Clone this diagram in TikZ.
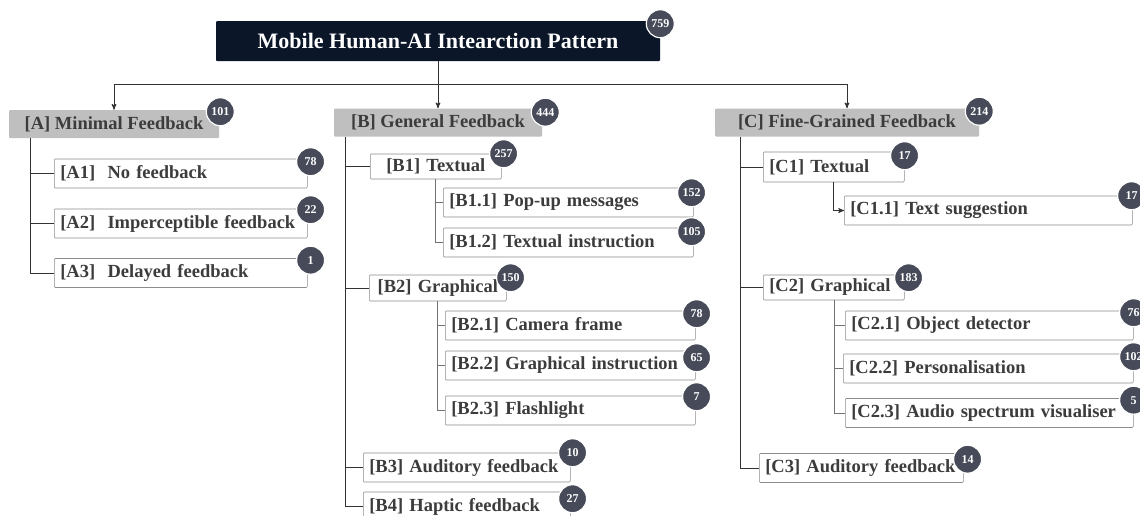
\documentclass[tikz,border=0pt]{standalone}
\usepackage{fontspec}
\setmainfont{Liberation Serif}
\usetikzlibrary{arrows,positioning}
\definecolor{navy}{HTML}{0B1628}
\definecolor{catgray}{HTML}{BFBFBF}
\definecolor{badgegray}{HTML}{474B59}
\definecolor{inkgray}{HTML}{3C3C3C}
\definecolor{rimgray}{HTML}{8C8C8C}
\newcommand{\boxfont}{\bfseries\fontsize{18.5}{20}\selectfont}

\begin{document}
\begin{tikzpicture}[x=1pt,y=-1pt,>=stealth',semithick,
	title/.style={fill=navy,text=white,rounded corners=1pt,minimum width=444,minimum height=40,font=\bfseries\fontsize{22}{24}\selectfont},
	cat/.style={fill=catgray,text=inkgray,rounded corners=1pt,minimum height=28,font=\boxfont},
	leaf/.style={draw=rimgray,fill=white,text=inkgray,rounded corners=1pt,anchor=west,align=left,inner xsep=6,minimum height=29,font=\boxfont},
	badge/.style={circle,fill=badgegray,draw=white,line width=1.2pt,minimum size=28,inner sep=0,text=white,font=\bfseries\fontsize{12}{12}\selectfont},
	spine/.style={draw=black!80,line width=1pt},
	twig/.style={draw=black!55,line width=0.8pt}]
	\fill[white] (0,0) rectangle (1140,515);
	\useasboundingbox (0,0) rectangle (1140,515);

	% root and the three feedback groups
	\node[title]					(root)	at (438,41)		{Mobile Human-AI Intearction Pattern};
	\node[cat,minimum width=210]	(A)		at (114,124)	{[A] Minimal Feedback};
	\node[cat,minimum width=208]	(B)		at (438,122.5)	{[B] General Feedback};
	\node[cat,minimum width=264]	(C)		at (847,122.5)	{[C] Fine-Grained Feedback};

	% group A
	\node[leaf,text width=241]	(A1)	at (54,173.5)	{[A1]\ \ No feedback};
	\node[leaf,text width=241]	(A2)	at (54,223.5)	{[A2]\ \ Imperceptible feedback};
	\node[leaf,text width=241]	(A3)	at (54,273)		{[A3]\ \ Delayed feedback};

	% group B
	\node[leaf,text width=119,align=center,minimum height=25]	(B1)	at (370,166.5)	{[B1] Textual};
	\node[leaf,text width=238]	(B11)	at (443,202.5)	{[B1.1] Pop-up messages};
	\node[leaf,text width=238]	(B12)	at (443,242.5)	{[B1.2] Textual instruction};
	\node[leaf,text width=125,align=center,minimum height=26]	(B2)	at (369,288)	{[B2] Graphical};
	\node[leaf,text width=238]	(B21)	at (445,325.5)	{[B2.1] Camera frame};
	\node[leaf,text width=238]	(B22)	at (445,365.5)	{[B2.2] Graphical instruction};
	\node[leaf,text width=238]	(B23)	at (445,410.5)	{[B2.3] Flashlight};
	\node[leaf,text width=195]	(B3)	at (363,467.5)	{[B3] Auditory feedback};
	\node[leaf,text width=195]	(B4)	at (363,506.5)	{[B4] Haptic feedback};

	% group C
	\node[leaf,text width=129,minimum height=30]	(C1)	at (763,167)	{[C1] Textual};
	\node[leaf,text width=276]	(C11)	at (844,210.5)	{[C1.1] Text suggestion};
	\node[leaf,text width=129,minimum height=25]	(C2)	at (763,287.5)	{[C2] Graphical};
	\node[leaf,text width=276]	(C21)	at (845,325.5)	{[C2.1] Object detector};
	\node[leaf,text width=278]	(C22)	at (843,368.5)	{[C2.2] Personalisation};
	\node[leaf,text width=276]	(C23)	at (845,413)	{[C2.3] Audio spectrum visualiser};
	\node[leaf,text width=192]	(C3)	at (759,468)	{[C3] Auditory feedback};

	% counts
	\node[badge]	(nroot)	at ([xshift=0,yshift=-3]root.north east)	{759};
	\node[badge]	(nA)	at ([xshift=1,yshift=-2]A.north east)	{101};
	\node[badge]	(nB)	at ([xshift=3,yshift=-4]B.north east)	{444};
	\node[badge]	(nC)	at ([xshift=0,yshift=-3]C.north east)	{214};
	\node[badge]	(nA1)	at ([xshift=3,yshift=-3]A1.north east)	{78};
	\node[badge]	(nA2)	at ([xshift=3,yshift=-1]A2.north east)	{22};
	\node[badge]	(nA3)	at ([xshift=3,yshift=-2]A3.north east)	{1};
	\node[badge]	(nB1)	at ([xshift=2,yshift=0]B1.north east)	{257};
	\node[badge]	(nB11)	at ([xshift=-2,yshift=-5]B11.north east)	{152};
	\node[badge]	(nB12)	at ([xshift=-2,yshift=-4]B12.north east)	{105};
	\node[badge]	(nB2)	at ([xshift=4,yshift=-3]B2.north east)	{150};
	\node[badge]	(nB21)	at ([xshift=1,yshift=-3]B21.north east)	{78};
	\node[badge]	(nB22)	at ([xshift=1,yshift=-7]B22.north east)	{65};
	\node[badge]	(nB23)	at ([xshift=1,yshift=-1]B23.north east)	{7};
	\node[badge]	(nB3)	at ([xshift=2,yshift=0]B3.north east)	{10};
	\node[badge]	(nB4)	at ([xshift=2,yshift=-7]B4.north east)	{27};
	\node[badge]	(nC1)	at ([xshift=0,yshift=-4]C1.north east)	{17};
	\node[badge]	(nC11)	at ([xshift=-1,yshift=0]C11.north east)	{17};
	\node[badge]	(nC2)	at ([xshift=4,yshift=-3]C2.north east)	{183};
	\node[badge]	(nC21)	at ([xshift=0,yshift=-2]C21.north east)	{76};
	\node[badge]	(nC22)	at ([xshift=0,yshift=-3]C22.north east)	{102};
	\node[badge]	(nC23)	at ([xshift=0,yshift=-2]C23.north east)	{5};
	\node[badge]	(nC3)	at ([xshift=4,yshift=-6]C3.north east)	{14};

	% root to groups
	\draw[spine,->] (root.south) -- ++(0,23) -| (A.north);
	\draw[spine,->] (root.south) -- (B.north);
	\draw[spine,->] (root.south) -- ++(0,23) -| (C.north);

	% tree branches
	\foreach \k in {A1,A2,A3}
		\draw[spine] ([xshift=22]A.south west) |- (\k.west);
	\foreach \k in {B1,B2,B3,B4}
		\draw[spine] ([xshift=12]B.south west) |- (\k.west);
	\foreach \k in {B11,B12}
		\draw[twig] ([xshift=65]B1.south west) |- (\k.west);
	\foreach \k in {B21,B22,B23}
		\draw[twig] ([xshift=68]B2.south west) |- (\k.west);
	\foreach \k in {C1,C2,C3}
		\draw[spine] ([xshift=26]C.south west) |- (\k.west);
	\draw[spine,->] ([xshift=70]C1.south west) |- (C11.west);
	\foreach \k in {C21,C22,C23}
		\draw[twig] ([xshift=71]C2.south west) |- (\k.west);
\end{tikzpicture}
\end{document}
